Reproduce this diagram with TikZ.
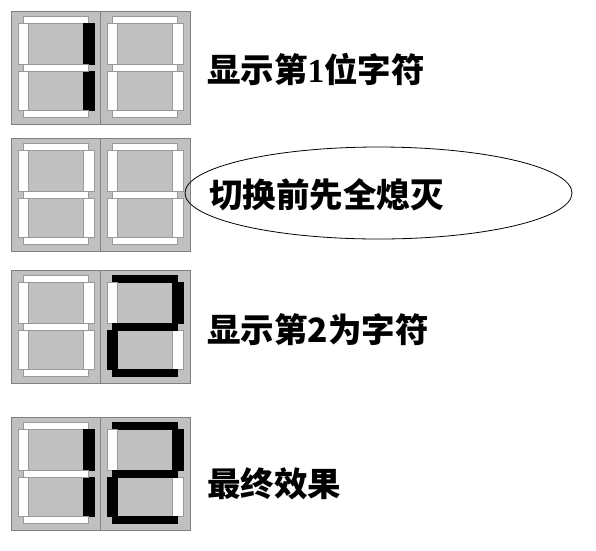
\documentclass[tikz,border=0pt]{standalone}
\usepackage{fontspec}
\setmainfont{Liberation Serif}
\newfontfamily\cjk{Noto Sans CJK SC}
\usetikzlibrary{shapes.geometric}

\definecolor{panelgray}{RGB}{192,192,192}
\definecolor{edgegray}{RGB}{128,128,128}

\tikzset{
	cell/.style={fill=panelgray, draw=edgegray, line width=0.8pt},
	window/.style={fill=panelgray, draw=edgegray!85, line width=0.8pt},
	segon/.style={fill=black, draw=black, line width=0.6pt},
	segoff/.style={fill=white, draw=edgegray!80, line width=0.6pt},
	caption/.style={anchor=west, inner sep=0pt, font=\cjk\bfseries\fontsize{33.5}{38}\selectfont},
}

% one digit cell: x, y, then the segments a b c d e f g
\newcommand\sevenseg[9]{%
	\begin{scope}[shift={(#1,#2)}]
		\draw[cell] (0,0) rectangle (89.5,113);
		\draw[window] (17,12) rectangle (72,53);
		\draw[window] (17,60) rectangle (72,99);
		\draw[#3] (12,5) rectangle (77,12);
		\draw[#4] (72,12) rectangle (83,53);
		\draw[#5] (72,60) rectangle (83,99);
		\draw[#6] (12,99) rectangle (77,106);
		\draw[#7] (7,60) rectangle (17,99);
		\draw[#8] (7,12) rectangle (17,53);
		\draw[#9] (12,53) rectangle (77,60);
	\end{scope}}

\begin{document}
\begin{tikzpicture}[x=1pt, y=-1pt]
	\useasboundingbox (0,0) rectangle (596,550);
	
	% show the first digit
	\sevenseg{11}{11}{segoff}{segon}{segon}{segoff}{segoff}{segoff}{segoff}
	\sevenseg{100.5}{11}{segoff}{segoff}{segoff}{segoff}{segoff}{segoff}{segoff}
	\node[caption] (first) at (207,69) {显示第{\rmfamily\bfseries 1}位字符};
	
	% all dark
	\sevenseg{11}{138}{segoff}{segoff}{segoff}{segoff}{segoff}{segoff}{segoff}
	\sevenseg{100.5}{138}{segoff}{segoff}{segoff}{segoff}{segoff}{segoff}{segoff}
	\node[caption] (blank) at (209,195) {切换前先全熄灭};
	\node[ellipse, draw, line width=0.8pt, minimum width=387pt, minimum height=92pt] (bubble) at (378.5,193) {};
	
	% show the second digit
	\sevenseg{11}{270}{segoff}{segoff}{segoff}{segoff}{segoff}{segoff}{segoff}
	\sevenseg{100.5}{270}{segon}{segon}{segoff}{segon}{segon}{segoff}{segon}
	\node[caption] (second) at (207,330) {显示第2为字符};
	
	% result
	\sevenseg{11}{417}{segoff}{segon}{segon}{segoff}{segoff}{segoff}{segoff}
	\sevenseg{100.5}{417}{segon}{segon}{segoff}{segon}{segon}{segoff}{segon}
	\node[caption] (result) at (207,484) {最终效果};
	
\end{tikzpicture}
\end{document}
